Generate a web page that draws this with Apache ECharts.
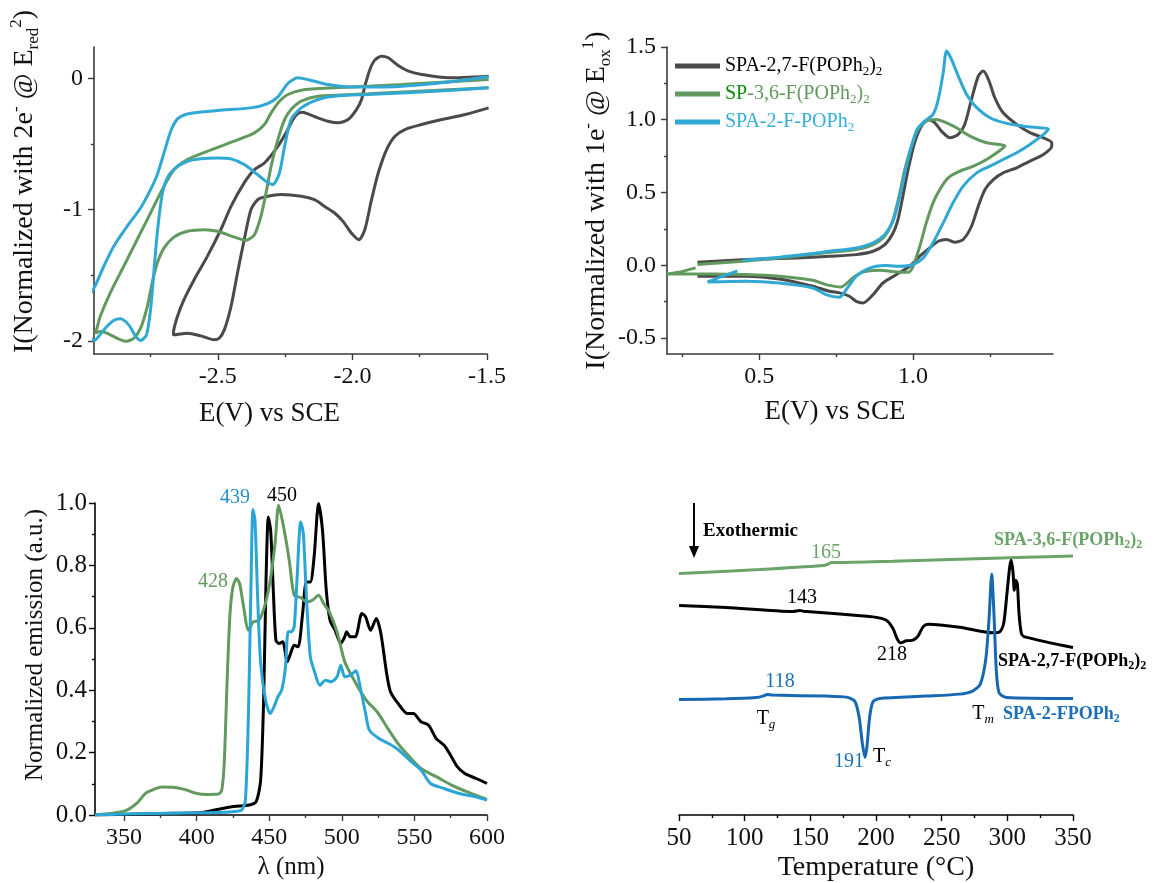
<!DOCTYPE html>
<html><head><meta charset="utf-8">
<script src="https://cdn.jsdelivr.net/npm/echarts@6/dist/echarts.min.js"></script>
<style>html,body{margin:0;padding:0;background:#fff}#c{width:1157px;height:883px}</style>
</head><body><div id="c"></div>
<script>
// ---------- Panel (a): reduction CV, E(V) vs SCE / normalized current ----------
const redXTicks = [-2.5, -2.0, -1.5];
const redXMinor = [-2.75, -2.25, -1.75];
const redYTicks = [0, -1, -2];
const redYMinor = [-0.5, -1.5];
const redBlack = [[-1.494,-0.224],[-1.581,-0.275],[-1.668,-0.313],[-1.743,-0.351],[-1.805,-0.389],[-1.842,-0.44],[-1.873,-0.542],[-1.904,-0.72],[-1.929,-0.924],[-1.954,-1.153],[-1.976,-1.229],[-2.004,-1.178],[-2.035,-1.089],[-2.066,-1.025],[-2.103,-0.975],[-2.141,-0.924],[-2.19,-0.898],[-2.265,-0.885],[-2.315,-0.898],[-2.352,-0.924],[-2.377,-1.0],[-2.402,-1.229],[-2.427,-1.483],[-2.451,-1.738],[-2.476,-1.916],[-2.495,-1.98],[-2.514,-1.992],[-2.563,-1.962],[-2.613,-1.941],[-2.663,-1.954],[-2.665,-1.941],[-2.65,-1.814],[-2.626,-1.687],[-2.588,-1.534],[-2.539,-1.356],[-2.489,-1.153],[-2.451,-0.975],[-2.402,-0.796],[-2.364,-0.695],[-2.327,-0.644],[-2.277,-0.517],[-2.24,-0.389],[-2.221,-0.313],[-2.203,-0.267],[-2.184,-0.257],[-2.159,-0.275],[-2.128,-0.3],[-2.091,-0.326],[-2.053,-0.338],[-2.016,-0.313],[-1.985,-0.237],[-1.966,-0.16],[-1.954,-0.059],[-1.935,0.069],[-1.917,0.14],[-1.892,0.17],[-1.867,0.158],[-1.83,0.099],[-1.792,0.056],[-1.743,0.031],[-1.643,0.005],[-1.494,0.018]];
const redGreen = [[-1.494,-0.071],[-1.942,-0.117],[-2.128,-0.135],[-2.19,-0.173],[-2.228,-0.237],[-2.252,-0.313],[-2.277,-0.466],[-2.302,-0.669],[-2.321,-0.873],[-2.34,-1.051],[-2.364,-1.191],[-2.396,-1.234],[-2.439,-1.209],[-2.501,-1.165],[-2.551,-1.153],[-2.613,-1.165],[-2.663,-1.209],[-2.7,-1.293],[-2.725,-1.407],[-2.744,-1.56],[-2.762,-1.738],[-2.787,-1.903],[-2.812,-1.98],[-2.84,-2.003],[-2.874,-1.98],[-2.912,-1.941],[-2.937,-1.929],[-2.955,-1.941],[-2.949,-1.903],[-2.937,-1.814],[-2.9,-1.636],[-2.85,-1.433],[-2.8,-1.229],[-2.75,-1.025],[-2.7,-0.822],[-2.663,-0.695],[-2.613,-0.618],[-2.539,-0.555],[-2.439,-0.478],[-2.364,-0.415],[-2.327,-0.351],[-2.302,-0.262],[-2.271,-0.173],[-2.24,-0.122],[-2.19,-0.089],[-2.066,-0.071],[-1.817,-0.046],[-1.494,-0.008]];
const redBlue = [[-1.494,-0.071],[-1.693,-0.097],[-1.942,-0.122],[-2.066,-0.135],[-2.128,-0.16],[-2.19,-0.224],[-2.228,-0.313],[-2.252,-0.517],[-2.271,-0.72],[-2.296,-0.809],[-2.321,-0.784],[-2.352,-0.733],[-2.402,-0.656],[-2.451,-0.613],[-2.501,-0.606],[-2.563,-0.611],[-2.613,-0.631],[-2.657,-0.682],[-2.688,-0.758],[-2.706,-0.873],[-2.725,-1.178],[-2.738,-1.483],[-2.75,-1.763],[-2.765,-1.954],[-2.787,-1.997],[-2.806,-1.962],[-2.831,-1.878],[-2.862,-1.832],[-2.887,-1.845],[-2.918,-1.903],[-2.943,-1.967],[-2.958,-1.997],[-3.02,-1.8],[-2.958,-1.59],[-2.924,-1.433],[-2.887,-1.28],[-2.837,-1.127],[-2.787,-0.987],[-2.75,-0.847],[-2.725,-0.733],[-2.7,-0.567],[-2.675,-0.402],[-2.65,-0.308],[-2.613,-0.27],[-2.501,-0.244],[-2.377,-0.224],[-2.315,-0.191],[-2.277,-0.14],[-2.24,-0.038],[-2.203,0.005],[-2.153,-0.015],[-2.091,-0.046],[-2.004,-0.064],[-1.879,-0.064],[-1.693,-0.038],[-1.494,0.013]];

// ---------- Panel (b): oxidation CV ----------
const oxXTicks = [0.5, 1.0];
const oxXMinor = [0.25, 0.75, 1.25];
const oxYTicks = [-0.5, 0.0, 0.5, 1.0, 1.5];
const oxYMinor = [-0.25, 0.25, 0.75, 1.25];
const oxBlack = [[0.299,0.021],[0.457,0.039],[0.62,0.05],[0.728,0.062],[0.815,0.073],[0.87,0.096],[0.908,0.142],[0.935,0.222],[0.951,0.314],[0.967,0.475],[0.984,0.658],[1.005,0.842],[1.027,0.956],[1.049,1.002],[1.071,0.979],[1.092,0.922],[1.12,0.876],[1.147,0.899],[1.168,0.968],[1.19,1.14],[1.212,1.3],[1.228,1.335],[1.245,1.278],[1.266,1.151],[1.293,1.048],[1.337,0.968],[1.38,0.911],[1.424,0.876],[1.451,0.842],[1.451,0.819],[1.424,0.761],[1.38,0.716],[1.337,0.67],[1.293,0.635],[1.261,0.589],[1.234,0.521],[1.212,0.406],[1.19,0.268],[1.163,0.177],[1.136,0.158],[1.109,0.177],[1.082,0.165],[1.054,0.119],[1.022,0.062],[0.989,-0.007],[0.946,-0.064],[0.902,-0.122],[0.87,-0.202],[0.837,-0.259],[0.815,-0.248],[0.793,-0.213],[0.761,-0.19],[0.728,-0.179],[0.674,-0.144],[0.565,-0.094],[0.457,-0.076],[0.299,-0.076]];
const oxGreen = [[0.299,0.005],[0.402,0.021],[0.511,0.039],[0.62,0.062],[0.728,0.089],[0.815,0.108],[0.87,0.142],[0.908,0.2],[0.935,0.314],[0.957,0.498],[0.973,0.658],[0.995,0.819],[1.016,0.933],[1.043,0.991],[1.076,1.002],[1.109,0.979],[1.141,0.945],[1.185,0.888],[1.239,0.842],[1.299,0.819],[1.272,0.773],[1.239,0.727],[1.196,0.681],[1.152,0.647],[1.114,0.601],[1.087,0.521],[1.065,0.429],[1.043,0.291],[1.022,0.131],[1.0,-0.007],[0.984,-0.048],[0.946,-0.046],[0.891,-0.034],[0.837,-0.046],[0.804,-0.087],[0.766,-0.149],[0.717,-0.133],[0.674,-0.103],[0.565,-0.076],[0.457,-0.064],[0.348,-0.06],[0.198,-0.06],[0.239,-0.048],[0.293,-0.018]];
const oxBlue = [[0.446,0.034],[0.565,0.055],[0.674,0.08],[0.728,0.096],[0.815,0.119],[0.87,0.154],[0.908,0.211],[0.935,0.303],[0.957,0.475],[0.976,0.658],[0.995,0.819],[1.013,0.933],[1.038,0.991],[1.065,1.037],[1.082,1.14],[1.098,1.323],[1.109,1.472],[1.125,1.415],[1.147,1.3],[1.174,1.174],[1.207,1.083],[1.25,1.014],[1.304,0.975],[1.359,0.956],[1.408,0.945],[1.44,0.938],[1.424,0.899],[1.38,0.83],[1.337,0.773],[1.293,0.727],[1.25,0.681],[1.207,0.635],[1.163,0.544],[1.13,0.429],[1.098,0.291],[1.065,0.154],[1.033,0.05],[1.0,0.005],[0.957,-0.007],[0.913,-0.002],[0.88,-0.007],[0.848,-0.03],[0.815,-0.076],[0.783,-0.167],[0.761,-0.22],[0.717,-0.202],[0.674,-0.156],[0.565,-0.122],[0.457,-0.11],[0.332,-0.115],[0.38,-0.076],[0.429,-0.039]];

// ---------- Panel (c): normalized emission vs wavelength ----------
const plXTicks = [350, 400, 450, 500, 550, 600];
const plXMinor = [375, 425, 475, 525, 575];
const plBlack = [[330,0.0],[375.7,0.005],[402,0.007],[412.6,0.016],[425.7,0.027],[436.2,0.032],[441,0.043],[444.1,0.112],[446.2,0.379],[447.8,0.752],[449.4,0.955],[451,0.912],[452.8,0.72],[454.6,0.56],[456.7,0.55],[459.3,0.555],[462.5,0.491],[465.1,0.523],[467.2,0.544],[469.9,0.539],[473,0.646],[475.6,0.747],[478.3,0.747],[480.9,0.827],[484,0.998],[486.7,0.912],[489.3,0.72],[491.9,0.624],[495.4,0.592],[499.3,0.55],[502,0.571],[503.3,0.587],[505.9,0.571],[509.3,0.571],[513.8,0.646],[516.4,0.635],[519.8,0.592],[523.7,0.63],[526.9,0.582],[530.9,0.453],[533.5,0.395],[538.7,0.358],[545.3,0.325],[549.3,0.325],[554.5,0.299],[559.8,0.288],[565,0.245],[570.3,0.224],[574.2,0.197],[579.5,0.155],[584.7,0.133],[592.6,0.117],[600,0.101]];
const plGreen = [[330,0.0],[344,0.007],[352,0.016],[358.7,0.037],[365,0.07],[370.5,0.082],[375.7,0.09],[383.6,0.089],[391.5,0.082],[399.4,0.07],[407.3,0.066],[415.2,0.067],[417.3,0.08],[419,0.165],[421,0.43],[423,0.646],[425,0.73],[427.5,0.758],[429.6,0.742],[432,0.678],[435.7,0.592],[438.8,0.619],[442.8,0.624],[446.7,0.667],[450.7,0.752],[454,0.87],[456.5,0.993],[459.9,0.923],[463.8,0.816],[467.2,0.704],[471.7,0.697],[475.6,0.683],[479.6,0.688],[484,0.704],[487.5,0.678],[491.4,0.651],[496.7,0.587],[502,0.491],[507.2,0.443],[512.4,0.4],[517.7,0.363],[524.3,0.331],[530.9,0.283],[538.7,0.229],[546.6,0.187],[554.5,0.149],[565,0.123],[575.6,0.096],[586,0.075],[600,0.05]];
const plBlue = [[330,0.0],[370,0.005],[402,0.007],[423,0.01],[431,0.016],[433.6,0.048],[435.7,0.325],[437.5,0.752],[438.8,0.979],[440.2,0.944],[442,0.7],[444.1,0.486],[447.5,0.368],[450.7,0.325],[453.3,0.347],[456,0.379],[458.6,0.4],[461.2,0.475],[463,0.587],[465.1,0.587],[467.2,0.603],[469.1,0.752],[471.7,0.939],[473.5,0.902],[475.6,0.7],[478.3,0.507],[480.9,0.464],[484.9,0.416],[488.8,0.432],[492.7,0.427],[496.7,0.443],[499.3,0.48],[502,0.443],[505.9,0.448],[509.8,0.462],[512.4,0.416],[516.4,0.325],[519,0.272],[525.6,0.245],[532.2,0.229],[538.7,0.21],[546.6,0.176],[554.5,0.144],[561.1,0.101],[570.3,0.085],[580.8,0.069],[591.3,0.059],[600,0.048]];

// ---------- Panel (d): DSC traces (arbitrary heat-flow units) ----------
const dscXTicks = [50, 100, 150, 200, 250, 300, 350];
const dscGreen = [[50,7.25],[111.4,7.37],[159.6,7.49],[163.5,7.53],[166,7.58],[169.8,7.58],[212.9,7.62],[263.7,7.68],[314.5,7.74],[350,7.78]];
const dscBlack = [[50,6.29],[86,6.23],[136.8,6.11],[141.9,6.14],[144.9,6.12],[174.9,6.03],[197.7,5.95],[207.9,5.85],[212.9,5.6],[216,5.3],[218.5,5.17],[223.1,5.23],[228.2,5.25],[232,5.37],[235.8,5.65],[239.6,5.73],[263.7,5.64],[289.1,5.47],[294.2,5.5],[297.2,5.75],[299.7,6.65],[301.8,7.45],[303,7.65],[304.3,7.3],[305.3,6.75],[306.3,7.05],[307.6,6.95],[308.9,6.05],[310.7,5.45],[313.2,5.35],[350,5.03]];
const dscBlue = [[50,3.47],[86,3.49],[108.9,3.53],[114,3.57],[117.3,3.62],[121.1,3.6],[162.2,3.57],[177.4,3.54],[183.8,3.42],[187.1,2.95],[189.6,2.15],[191.6,1.73],[193.1,2.05],[195.2,2.95],[197.7,3.4],[202.8,3.5],[238.3,3.57],[263.7,3.63],[273.9,3.73],[279.4,3.93],[283.5,4.65],[286,5.85],[288.1,7.23],[289.8,6.05],[291.6,4.35],[293.7,3.67],[299.2,3.53],[350,3.5]];

const names = ['SPA-2,7-F(POPh2)2', 'SP-3,6-F(POPh2)2', 'SPA-2-F-POPh2'];

const FONT = 'Liberation Serif';
const C = { k: '#4a4a4a', g: '#62995f', b: '#2fa8d3', pk: '#000000', pg: '#62995f', pb: '#2aa6d6', dg: '#6aa468', dk: '#000000', db: '#1668b2' };

function richName(size) {
  return {
    n: { fontFamily: FONT, fontSize: size, color: '#111', lineHeight: size + 6 },
    p: { fontFamily: FONT, fontSize: Math.round(size * 0.62), color: '#111', verticalAlign: 'top', lineHeight: Math.round(size * 0.62) },
    s: { fontFamily: FONT, fontSize: Math.round(size * 0.62), color: '#111', verticalAlign: 'bottom', lineHeight: Math.round(size * 0.62) }
  };
}

function majorAxis(grid, min, max, ticks, fmt, extra) {
  return Object.assign({
    type: 'value', gridIndex: grid, min: min, max: max,
    axisLine: { show: true, onZero: false, lineStyle: { color: '#3a3a3a', width: 1.6 } },
    axisTick: { show: true, inside: false, length: 6, customValues: ticks, lineStyle: { color: '#3a3a3a', width: 1.4 } },
    axisLabel: { show: true, customValues: ticks, formatter: fmt, margin: 11, color: '#111', fontFamily: FONT, fontSize: 24 },
    splitLine: { show: false }
  }, extra || {});
}
function minorAxis(grid, min, max, ticks, pos) {
  return {
    type: 'value', gridIndex: grid, min: min, max: max, position: pos,
    axisLine: { show: false, onZero: false },
    axisTick: { show: true, inside: false, length: 3, customValues: ticks, lineStyle: { color: '#3a3a3a', width: 1.4 } },
    axisLabel: { show: false, customValues: ticks },
    splitLine: { show: false }
  };
}
const f1 = v => Number(v).toFixed(1);
const f0 = v => String(Math.round(v));

function line(name, data, color, xi, yi, w) {
  return { type: 'line', name: name, data: data, xAxisIndex: xi, yAxisIndex: yi, showSymbol: false, symbol: 'none',
    smooth: 0.25, lineStyle: { color: color, width: w || 3 }, itemStyle: { color: color }, z: 3, silent: true };
}

const legRich = {
  k: { fontFamily: FONT, fontSize: 20, color: '#000', lineHeight: 24 },
  ks: { fontFamily: FONT, fontSize: 13, color: '#000', verticalAlign: 'bottom', lineHeight: 13 },
  d: { fontFamily: FONT, fontSize: 20, color: '#0a8a0a', lineHeight: 24 },
  g: { fontFamily: FONT, fontSize: 20, color: '#62995f', lineHeight: 24 },
  gs: { fontFamily: FONT, fontSize: 13, color: '#62995f', verticalAlign: 'bottom', lineHeight: 13 },
  b: { fontFamily: FONT, fontSize: 20, color: '#36aedc', lineHeight: 24 },
  bs: { fontFamily: FONT, fontSize: 13, color: '#36aedc', verticalAlign: 'bottom', lineHeight: 13 }
};
const legFmt = {
  'SPA-2,7-F(POPh2)2': '{k|SPA-2,7-F(POPh}{ks|2}{k|)}{ks|2}',
  'SP-3,6-F(POPh2)2': '{d|SP}{g|-3,6-F(POPh}{gs|2}{g|)}{gs|2}',
  'SPA-2-F-POPh2': '{b|SPA-2-F-POPh}{bs|2}'
};

function txt(x, y, text, rich, align) {
  return { type: 'text', x: x, y: y, z: 10, silent: true, style: { text: text, rich: rich, align: align || 'center', verticalAlign: 'middle' } };
}
function rs(size, color, bold) {
  const w = bold ? 'bold' : 'normal';
  const ss = Math.round(size * 0.65);
  return {
    a: { fontFamily: FONT, fontSize: size, fill: color, color: color, fontWeight: w, lineHeight: size + 4 },
    s: { fontFamily: FONT, fontSize: ss, fill: color, color: color, fontWeight: w, verticalAlign: 'bottom', lineHeight: ss },
    i: { fontFamily: FONT, fontSize: ss, fill: color, color: color, fontStyle: 'italic', verticalAlign: 'bottom', lineHeight: ss }
  };
}

const chart = echarts.init(document.getElementById('c'), null, { renderer: 'canvas' });
chart.setOption({
  animation: false,
  backgroundColor: '#ffffff',
  textStyle: { fontFamily: FONT },
  grid: [
    { left: 94, top: 47, width: 393, height: 307, outerBoundsMode: 'none', containLabel: false },
    { left: 667, top: 47, width: 386, height: 307, outerBoundsMode: 'none', containLabel: false },
    { left: 95, top: 503, width: 392, height: 312, outerBoundsMode: 'none', containLabel: false },
    { left: 679, top: 482, width: 394, height: 333, outerBoundsMode: 'none', containLabel: false }
  ],
  legend: {
    left: 675, top: 56, orient: 'vertical', padding: 0, itemGap: 6, itemWidth: 45, itemHeight: 5, icon: 'rect',
    data: names, selectedMode: false,
    formatter: n => legFmt[n], textStyle: { fontFamily: FONT, fontSize: 20, rich: legRich }
  },
  xAxis: [
    majorAxis(0, -2.96, -1.5, redXTicks, f1, { name: 'E(V) vs SCE', nameLocation: 'middle', nameGap: 46,
      nameTextStyle: { fontFamily: FONT, fontSize: 27, color: '#111', padding: [0, 42, 0, 0] } }),
    minorAxis(0, -2.96, -1.5, redXMinor, 'bottom'),
    majorAxis(1, 0.2, 1.455, oxXTicks, f1, { name: 'E(V) vs SCE', nameLocation: 'middle', nameGap: 44,
      nameTextStyle: { fontFamily: FONT, fontSize: 27, color: '#111', padding: [0, 50, 0, 0] } }),
    minorAxis(1, 0.2, 1.455, oxXMinor, 'bottom'),
    majorAxis(2, 330, 600, plXTicks, f0, { name: 'λ (nm)', nameLocation: 'middle', nameGap: 40,
      axisLine: { show: true, onZero: false, lineStyle: { color: '#000', width: 1.6 } },
      nameTextStyle: { fontFamily: FONT, fontSize: 25, color: '#111' } }),
    minorAxis(2, 330, 600, plXMinor, 'bottom'),
    { type: 'value', gridIndex: 3, min: 50, max: 350, interval: 50,
      axisLine: { show: true, onZero: false, lineStyle: { color: '#000', width: 1.6 } },
      axisTick: { show: true, length: 6, lineStyle: { color: '#000', width: 1.4 } },
      minorTick: { show: true, splitNumber: 2, length: 3, lineStyle: { color: '#000', width: 1.4 } },
      axisLabel: { margin: 11, color: '#111', fontFamily: FONT, fontSize: 25, formatter: f0 },
      splitLine: { show: false },
      name: 'Temperature (°C)', nameLocation: 'middle', nameGap: 39,
      nameTextStyle: { fontFamily: FONT, fontSize: 28, color: '#111' } }
  ],
  yAxis: [
    majorAxis(0, -2.1, 0.24, redYTicks, f0, { name: '{n|I(Normalized with 2e}{p|-}{n| @ E}{s|red}{p|2}{n|)}', nameLocation: 'middle', nameGap: 52,
      nameTextStyle: { rich: richName(28), padding: [0, 0, 0, 38] } }),
    minorAxis(0, -2.1, 0.24, redYMinor, 'left'),
    majorAxis(1, -0.61, 1.5, oxYTicks, f1, { name: '{n|I(Normalized with 1e}{p|-}{n| @ E}{s|ox}{p|1}{n|)}', nameLocation: 'middle', nameGap: 45,
      nameTextStyle: { rich: richName(28) } }),
    minorAxis(1, -0.61, 1.5, oxYMinor, 'left'),
    { type: 'value', gridIndex: 2, min: 0, max: 1.0, interval: 0.2,
      axisLine: { show: true, onZero: false, lineStyle: { color: '#000', width: 1.6 } },
      axisTick: { show: true, length: 6, lineStyle: { color: '#000', width: 1.4 } },
      minorTick: { show: true, splitNumber: 2, length: 3, lineStyle: { color: '#000', width: 1.4 } },
      axisLabel: { margin: 8, color: '#111', fontFamily: FONT, fontSize: 25, formatter: f1 },
      splitLine: { show: false },
      name: 'Normalized emission (a.u.)', nameLocation: 'middle', nameGap: 47,
      nameTextStyle: { fontFamily: FONT, fontSize: 25, color: '#111', padding: [0, 0, 0, 28] } },
    { type: 'value', gridIndex: 3, min: 0, max: 10, show: false }
  ],
  series: [
    line(names[0], redBlack, C.k, 0, 0),
    line(names[1], redGreen, C.g, 0, 0),
    line(names[2], redBlue, C.b, 0, 0),
    line(names[0], oxBlack, C.k, 2, 2),
    line(names[1], oxGreen, C.g, 2, 2),
    line(names[2], oxBlue, C.b, 2, 2),
    line('PL SPA-2,7', plBlack, C.pk, 4, 4),
    line('PL SP-3,6', plGreen, C.pg, 4, 4),
    line('PL SPA-2', plBlue, C.pb, 4, 4),
    line('DSC SPA-3,6', dscGreen, C.dg, 6, 5),
    line('DSC SPA-2,7', dscBlack, C.dk, 6, 5),
    line('DSC SPA-2', dscBlue, C.db, 6, 5)
  ],
  graphic: [
    txt(235, 498, '{a|439}', rs(20, '#2a8fc8')),
    txt(282, 496, '{a|450}', rs(20, '#000')),
    txt(213, 582, '{a|428}', rs(20, '#62995f')),
    { type: 'line', silent: true, shape: { x1: 694, y1: 503, x2: 694, y2: 548 }, style: { stroke: '#000', lineWidth: 2 } },
    { type: 'polygon', silent: true, shape: { points: [[689, 546], [699, 546], [694, 558]] }, style: { fill: '#000' } },
    txt(703, 531, '{a|Exothermic}', rs(19, '#000', true), 'left'),
    txt(994, 540, '{a|SPA-3,6-F(POPh}{s|2}{a|)}{s|2}', rs(18, '#6aa468', true), 'left'),
    txt(998, 661, '{a|SPA-2,7-F(POPh}{s|2}{a|)}{s|2}', rs(18, '#000', true), 'left'),
    txt(1003, 714, '{a|SPA-2-FPOPh}{s|2}', rs(18, '#1a6fb8', true), 'left'),
    txt(826, 553, '{a|165}', rs(20, '#6aa468')),
    txt(802, 598, '{a|143}', rs(20, '#000')),
    txt(892, 655, '{a|218}', rs(20, '#000')),
    txt(780, 682, '{a|118}', rs(20, '#1a6fb8')),
    txt(766, 719, '{a|T}{i|g}', rs(20, '#000')),
    txt(849, 762, '{a|191}', rs(20, '#1a6fb8')),
    txt(882, 757, '{a|T}{i|c}', rs(20, '#000')),
    txt(983, 714, '{a|T}{i|m}', rs(20, '#000'))
  ]
});
</script>
</body></html>
